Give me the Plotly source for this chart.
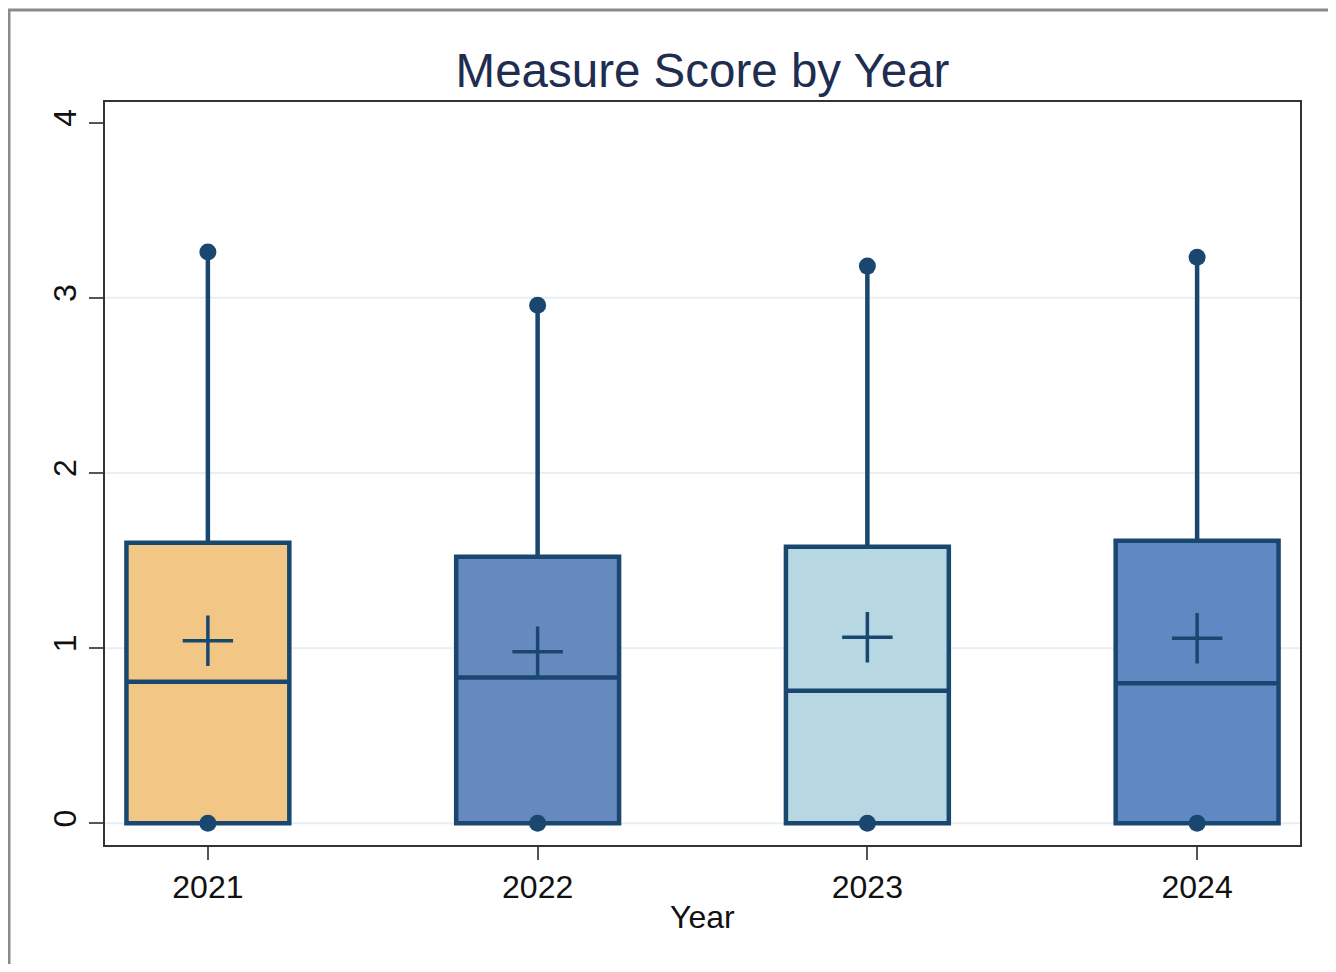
import plotly.graph_objects as go

# ---- data ----
years = ["2021", "2022", "2023", "2024"]
q1 = [0.0, 0.0, 0.0, 0.0]
medians = [0.808, 0.833, 0.757, 0.799]
q3 = [1.601, 1.522, 1.579, 1.613]
mins = [0.0, 0.0, 0.0, 0.0]
maxs = [3.262, 2.958, 3.181, 3.232]
means = [1.042, 0.979, 1.062, 1.056]
fills = ["#f2c684", "#6689bf", "#b7d8e3", "#5e89c2"]
y_ticks = [0, 1, 2, 3, 4]
grid_vals = [0, 1, 2, 3]

NAVY = "#1a476f"
FONT = "Arial, Liberation Sans, sans-serif"

OFF = 8  # page body margin offset
W, H = 1336 - OFF, 972 - 2 * OFF
PW, PH = 1195, 743
L, T = 105 - OFF, 102 - OFF
R, B = W - L - PW, H - T - PH

fig = go.Figure()

for i, yr in enumerate(years):
    fig.add_trace(go.Box(
        x=[yr], q1=[q1[i]], median=[medians[i]], q3=[q3[i]],
        lowerfence=[mins[i]], upperfence=[maxs[i]],
        fillcolor=fills[i], line=dict(color=NAVY, width=4.5),
        whiskerwidth=0, width=0.494, boxpoints=False,
        showlegend=False, hoverinfo="skip",
    ))

# whisker-end dots
fig.add_trace(go.Scatter(
    x=years + years, y=maxs + mins, mode="markers",
    marker=dict(size=17, color=NAVY), showlegend=False, hoverinfo="skip",
))
# mean markers
fig.add_trace(go.Scatter(
    x=years, y=means, mode="markers",
    marker=dict(symbol="cross-thin", size=36, line=dict(color=NAVY, width=3.5)),
    showlegend=False, hoverinfo="skip",
))

def px_x(p):
    return (p - OFF - L) / PW
def px_y(p):
    return (T + PH - (p - OFF)) / PH

shapes = []
for g in grid_vals:
    shapes.append(dict(type="line", xref="paper", yref="y", x0=0, x1=1, y0=g, y1=g,
                       line=dict(color="#e6eff1", width=2), layer="below"))
# outer frame
shapes.append(dict(type="rect", xref="paper", yref="paper",
                   x0=px_x(9), x1=px_x(1333), y0=px_y(1000), y1=px_y(10),
                   line=dict(color="#8a8a8a", width=3), layer="above"))

fig.update_layout(
    width=W, height=H,
    margin=dict(l=L, r=R, t=T, b=B),
    paper_bgcolor="white", plot_bgcolor="white",
    boxmode="overlay",
    font=dict(family=FONT, color="#111111"),
    title=dict(text="Measure Score by Year", x=0.5, xref="paper",
               y=1 - (70 - OFF) / H, yanchor="middle",
               font=dict(size=47.5, color="#1f2d50", family=FONT)),
    shapes=shapes,
    annotations=[dict(text="Year", xref="paper", yref="paper", x=0.5, y=px_y(917),
                      showarrow=False, yanchor="middle",
                      font=dict(size=32, color="#111111", family=FONT))],
)
fig.update_xaxes(
    type="category", range=[-0.312, 3.312],
    showline=True, linecolor="#333333", linewidth=2, mirror=True,
    ticks="outside", ticklen=13, tickwidth=2, tickcolor="#555555",
    showgrid=False, zeroline=False,
    tickfont=dict(size=32, family=FONT, color="#111111"),
)
fig.update_yaxes(
    range=[-0.124, 4.118], tickvals=y_ticks, tickangle=-90,
    showline=True, linecolor="#333333", linewidth=2, mirror=True,
    ticks="outside", ticklen=14, tickwidth=2, tickcolor="#555555",
    showgrid=False, zeroline=False,
    tickfont=dict(size=32, family=FONT, color="#111111"),
)

fig.write_html("out.html")
